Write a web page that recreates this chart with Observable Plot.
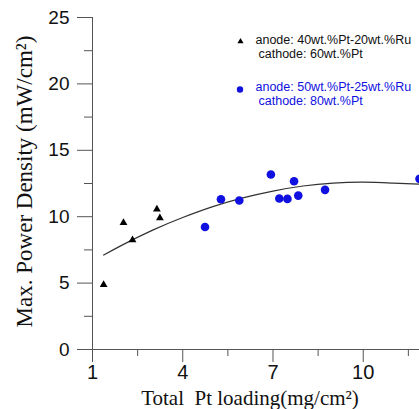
<!DOCTYPE html>
<html>
<head>
<meta charset="utf-8">
<script src="https://cdn.jsdelivr.net/npm/d3@7"></script>
<script src="https://cdn.jsdelivr.net/npm/@observablehq/plot@0.6"></script>
<style>
  html, body { margin: 0; padding: 0; background: #fff; }
  #chart { width: 419px; height: 409px; overflow: hidden; }
</style>
</head>
<body>
<div id="chart"></div>
<script>
// Series A: anode 40wt.%Pt-20wt.%Ru / cathode 60wt.%Pt (black triangles)
const triX = [1.37, 2.03, 2.33, 3.14, 3.24];
const triY = [4.87, 9.55, 8.25, 10.56, 9.91];
// Series B: anode 50wt.%Pt-25wt.%Ru / cathode 80wt.%Pt (blue circles)
const cirX = [4.74, 5.27, 5.88, 6.93, 7.21, 7.48, 7.70, 7.84, 8.73, 11.87];
const cirY = [9.23, 11.31, 11.22, 13.18, 11.37, 11.34, 12.67, 11.59, 12.02, 12.85];
// Fitted trend line
const fitX = [1.37, 2, 3, 4, 5, 6, 7, 8, 9, 10, 11, 11.87];
const fitY = [7.11, 7.88, 8.99, 9.94, 10.76, 11.42, 11.93, 12.31, 12.53, 12.6, 12.53, 12.45];
// Ticks
const xMajor = [1, 4, 7, 10];
const xMinor = [2.5, 5.5, 8.5, 11.5];
const yMajor = [0, 5, 10, 15, 20, 25];
const yMinor = [2.5, 7.5, 12.5, 17.5, 22.5];
// Texts
const xTitle = "Total  Pt loading(mg/cm²)";
const yTitle = "Max. Power Density (mW/cm²)";
const legA = ["anode: 40wt.%Pt-20wt.%Ru", "cathode: 60wt.%Pt"];
const legB = ["anode: 50wt.%Pt-25wt.%Ru", "cathode: 80wt.%Pt"];

const tri = triX.map((x, i) => ({x, y: triY[i]}));
const cir = cirX.map((x, i) => ({x, y: cirY[i]}));
const fit = fitX.map((x, i) => ({x, y: fitY[i]}));

const axisCol = "#555";
const blue = "#1010e0";

const chart = Plot.plot({
  width: 419,
  height: 409,
  marginLeft: 92,
  marginRight: 0,
  marginTop: 17,
  marginBottom: 60,
  style: {fontFamily: "'Liberation Sans', Arial, sans-serif", background: "#fff", color: "#111"},
  x: {domain: [1, 11.87], label: null},
  y: {domain: [0, 25], label: null},
  marks: [
    Plot.ruleX([1], {stroke: axisCol}),
    Plot.ruleY([0], {stroke: axisCol}),
    Plot.axisY({ticks: yMajor, tickSize: 15, tickPadding: 8, fontSize: 19, stroke: axisCol, fill: "#111", label: null}),
    Plot.axisY({ticks: yMinor, tickSize: 8, tickFormat: () => "", stroke: axisCol, label: null}),
    Plot.axisX({ticks: xMajor, tickSize: 13, tickPadding: 2, fontSize: 20, stroke: axisCol, fill: "#111", label: null}),
    Plot.axisX({ticks: xMinor, tickSize: 7, tickFormat: () => "", stroke: axisCol, label: null}),
    Plot.line(fit, {x: "x", y: "y", curve: "natural", stroke: "#333", strokeWidth: 1.2}),
    Plot.dot(tri, {x: "x", y: "y", symbol: "triangle", fill: "#000", r: 2.9}),
    Plot.dot(cir, {x: "x", y: "y", symbol: "circle", fill: blue, r: 4.3}),
    // axis titles
    Plot.text([yTitle], {frameAnchor: "left", dx: -68, dy: -2, rotate: -90, textAnchor: "middle", lineAnchor: "middle",
      fontFamily: "'Liberation Serif', 'Times New Roman', serif", fontSize: 23, fill: "#111"}),
    Plot.text([xTitle], {frameAnchor: "bottom", dx: -6, dy: 55, textAnchor: "middle", lineAnchor: "bottom",
      fontFamily: "'Liberation Serif', 'Times New Roman', serif", fontSize: 21, fill: "#111"}),
    // legend
    Plot.dot([0], {frameAnchor: "top-left", dx: 148, dy: 24, symbol: "triangle", fill: "#000", r: 2.3}),
    Plot.text([legA[0]], {frameAnchor: "top-left", dx: 163, dy: 22, textAnchor: "start", lineAnchor: "middle", fontSize: 12.5, fill: "#111"}),
    Plot.text([legA[1]], {frameAnchor: "top-left", dx: 166, dy: 36, textAnchor: "start", lineAnchor: "middle", fontSize: 12.5, fill: "#111"}),
    Plot.dot([0], {frameAnchor: "top-left", dx: 147.5, dy: 72, symbol: "circle", fill: blue, r: 3.2}),
    Plot.text([legB[0]], {frameAnchor: "top-left", dx: 163, dy: 69, textAnchor: "start", lineAnchor: "middle", fontSize: 12.5, fill: blue}),
    Plot.text([legB[1]], {frameAnchor: "top-left", dx: 166, dy: 83, textAnchor: "start", lineAnchor: "middle", fontSize: 12.5, fill: blue})
  ]
});
document.getElementById("chart").appendChild(chart);
</script>
</body>
</html>
